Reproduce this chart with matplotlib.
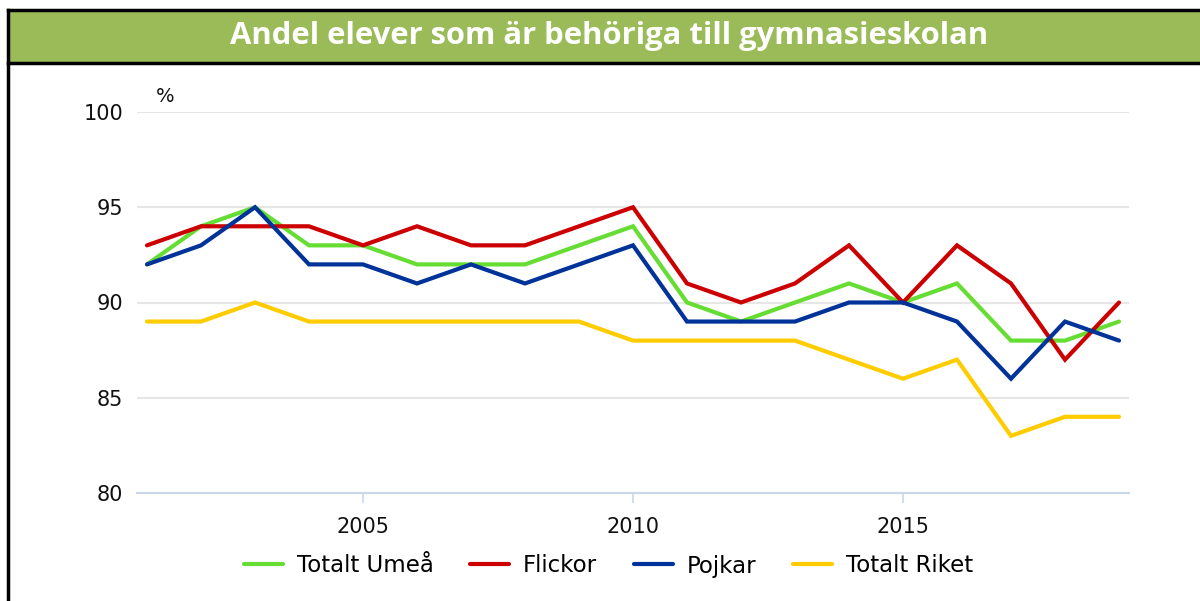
import matplotlib.pyplot as plt
from matplotlib.patches import Rectangle
from matplotlib.lines import Line2D

years = list(range(2001, 2020))
totalt_umea = [92, 94, 95, 93, 93, 92, 92, 92, 93, 94, 90, 89, 90, 91, 90, 91, 88, 88, 89]
flickor = [93, 94, 94, 94, 93, 94, 93, 93, 94, 95, 91, 90, 91, 93, 90, 93, 91, 87, 90]
pojkar = [92, 93, 95, 92, 92, 91, 92, 91, 92, 93, 89, 89, 89, 90, 90, 89, 86, 89, 88]
totalt_riket = [89, 89, 90, 89, 89, 89, 89, 89, 89, 88, 88, 88, 88, 87, 86, 87, 83, 84, 84]

series = [("Totalt Umeå", totalt_umea, "#66dd33"),
          ("Flickor", flickor, "#cc0000"),
          ("Pojkar", pojkar, "#003399"),
          ("Totalt Riket", totalt_riket, "#ffcc00")]

fig = plt.figure(figsize=(12, 6.01), dpi=100)
W, H = 1200, 601

# title bar and frame
fig.patches.append(Rectangle((8 / W, 1 - 63 / H), 1.0, 54 / H, transform=fig.transFigure,
                             facecolor="#9bbb59", edgecolor="none", zorder=0))
fig.add_artist(Line2D([8 / W, 1], [1 - 9.5 / H] * 2, color="black", lw=2.5))
fig.add_artist(Line2D([8 / W, 1], [1 - 63 / H] * 2, color="black", lw=2.5))
fig.add_artist(Line2D([8 / W] * 2, [0, 1 - 9.5 / H], color="black", lw=2.5))
fig.text(0.508, 1 - 36 / H, "Andel elever som är behöriga till gymnasieskolan",
         ha="center", va="center", color="white", fontsize=22.3, fontweight="bold",
         family="Open Sans")

ax = fig.add_axes([137 / W, 1 - 493 / H, (1129 - 137) / W, (493 - 112) / H])
for name, vals, col in series:
    ax.plot(years, vals, color=col, lw=3, label=name, solid_capstyle="round",
            solid_joinstyle="miter")

ax.set_xlim(2001 - 10 / 54, 2019 + 10 / 54)
ax.set_ylim(80, 100)
ax.set_yticks([80, 85, 90, 95, 100])
ax.set_xticks([2005, 2010, 2015])
ax.grid(axis="y", color="#e6e6e6", lw=1.5)
ax.set_axisbelow(True)
for s in ["top", "right", "left"]:
    ax.spines[s].set_visible(False)
ax.spines["bottom"].set_color("#ccd6eb")
ax.spines["bottom"].set_linewidth(1.5)
ax.tick_params(axis="y", length=0, pad=10, labelsize=15)
ax.tick_params(axis="x", length=7, width=1.2, color="#ccd6eb", pad=10, labelsize=15)
for lbl in ax.get_yticklabels() + ax.get_xticklabels():
    lbl.set_color("#111111")

fig.text(165 / W, 1 - 97 / H, "%", ha="center", va="center", fontsize=14, color="#111111")

fig.legend(loc="center", bbox_to_anchor=(0.507, 1 - 566 / H), ncol=4, frameon=False,
           fontsize=16.5, handlelength=1.7, columnspacing=1.6, handletextpad=0.6)

fig.savefig("out.png", dpi=100)
